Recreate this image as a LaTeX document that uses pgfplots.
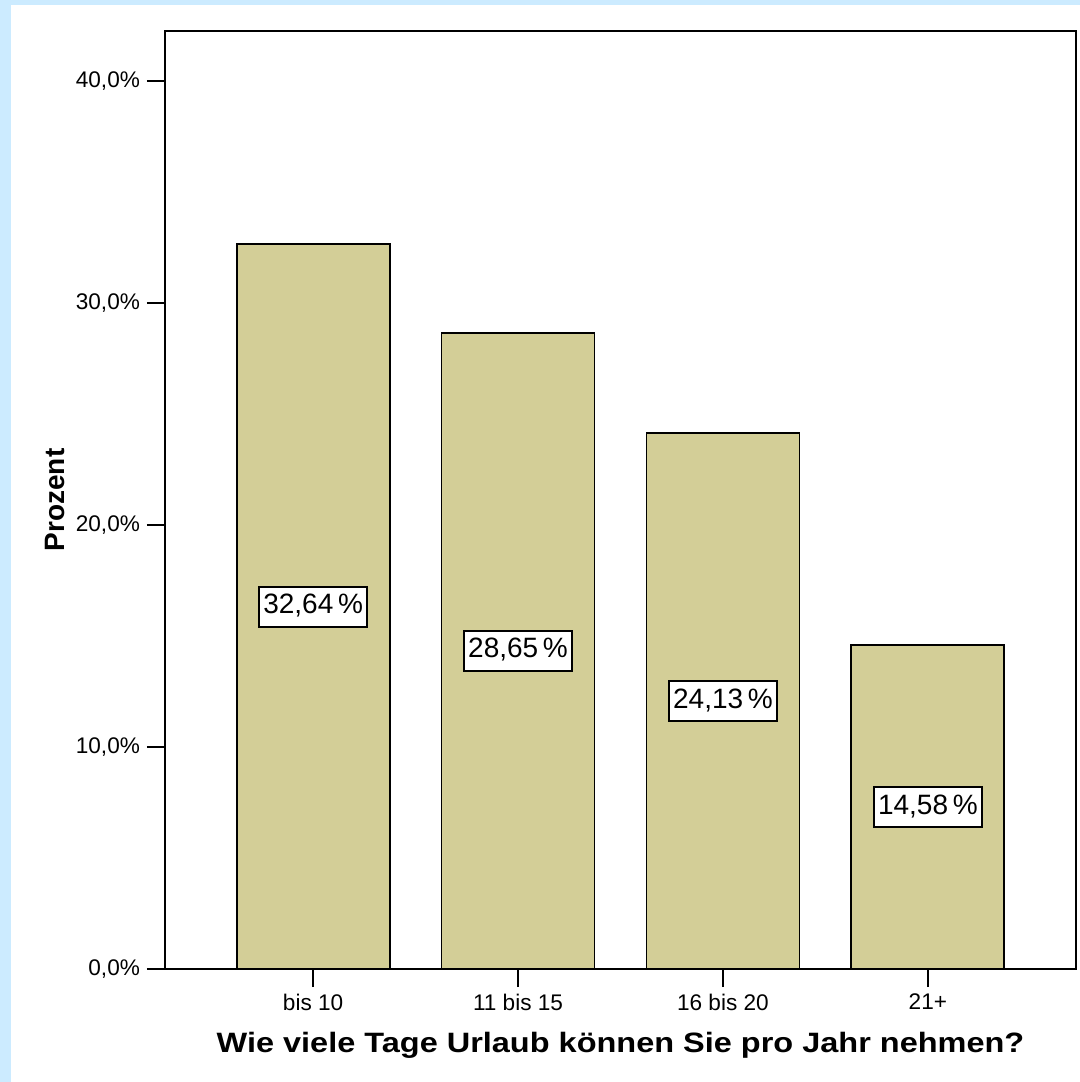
\documentclass[border=0pt]{standalone}
\usepackage{fontspec}
\setmainfont{Liberation Sans}
\usepackage{graphicx}
\usepackage{pgfplots}
\pgfplotsset{compat=1.18}
\usetikzlibrary{backgrounds}
\definecolor{barfill}{HTML}{D3CE97}
\definecolor{bgblue}{HTML}{CCEBFF}

\begin{document}
\begin{tikzpicture}
\begin{axis}[
  name=ax,
  scale only axis,
  width=455.5pt, height=469pt,
  xmin=-0.723, xmax=3.723,
  ymin=0, ymax=42.25,
  axis line style={line width=1pt},
  xtick={0,1,2,3},
  xticklabels={bis 10, 11 bis 15, 16 bis 20, 21+},
  ytick={0,10,20,30,40},
  yticklabels={{0,0\%},{10,0\%},{20,0\%},{30,0\%},{40,0\%}},
  tick align=outside,
  major tick length=9pt,
  xtick pos=bottom, ytick pos=left,
  tick style={line width=1pt, black},
  ticklabel style={font=\fontsize{11.3}{13}\selectfont},
  ylabel={Prozent},
  xlabel={\scalebox{1.16}[1]{Wie viele Tage Urlaub können Sie pro Jahr nehmen?}},
  label style={font=\fontsize{14}{16}\selectfont\bfseries},
  ylabel style={at={(axis description cs:-0.1207,0.5)}, anchor=center},
  xlabel style={at={(axis description cs:0.5,-0.0885)}, anchor=base},
]
  \addplot[ybar, bar width=0.747, fill=barfill, draw=black, line width=0.9pt]
    coordinates {(0,32.64) (1,28.65) (2,24.13) (3,14.58)};
  % value boxes sit at half the bar height
  \addplot[draw=none, nodes near coords, point meta=explicit symbolic,
    nodes near coords align=center,
    every node near coord/.style={anchor=center, fill=white, draw=black,
      line width=0.9pt, font=\fontsize{14}{16}\selectfont,
      text height=10pt, text depth=3pt, inner ysep=3.5pt, inner xsep=2.2pt}]
    coordinates {(0,16.32) [{32,64\,\%}] (1,14.325) [{28,65\,\%}]
                 (2,12.065) [{24,13\,\%}] (3,7.29) [{14,58\,\%}]};
\end{axis}
\begin{scope}[on background layer]
  \fill[bgblue] ([shift={(-82.5pt,-56.5pt)}]ax.south west) rectangle ([shift={(2pt,15.5pt)}]ax.north east);
  \fill[white] ([shift={(-77pt,-56.5pt)}]ax.south west) rectangle ([shift={(2pt,13pt)}]ax.north east);
\end{scope}
\end{tikzpicture}
\end{document}
